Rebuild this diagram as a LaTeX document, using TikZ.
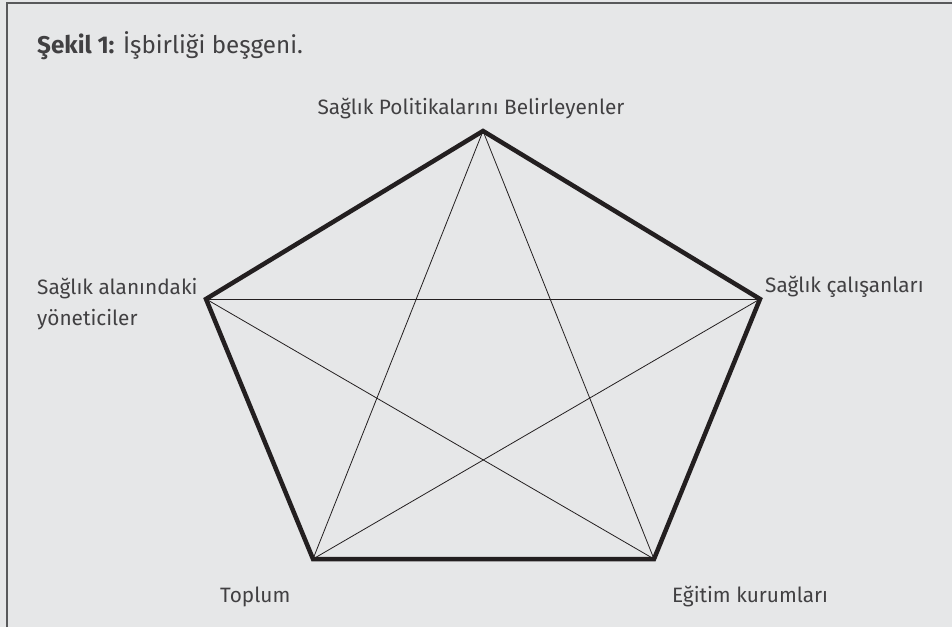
\documentclass[tikz,border=0pt]{standalone}
\usepackage{fontspec}
\setmainfont{Fira Sans}
\definecolor{bgc}{HTML}{E6E7E8}
\definecolor{ink}{HTML}{231F20}
\definecolor{txt}{HTML}{414042}
\definecolor{frame}{HTML}{58595B}
\begin{document}
\begin{tikzpicture}[x=1pt,y=-1pt,
  lbl/.style={text=txt,font=\fontsize{20.8}{31}\selectfont,inner sep=0pt},
  edge/.style={draw=ink,line width=4.5pt,line join=miter},
  diag/.style={draw=ink,line width=0.8pt}]
\fill[bgc] (0,0) rectangle (952,627);
\useasboundingbox (0,0) rectangle (952,627);
\draw[frame,line width=2pt] (6.5,627) -- (6.5,2.5) -- (952,2.5);
\node[anchor=base west,text=txt,font=\fontsize{24.2}{26}\selectfont,inner sep=0pt] (title) at (37,53) {\textbf{Şekil 1:} İşbirliği beşgeni.};
\coordinate (T) at (483,131);
\coordinate (L) at (206,299);
\coordinate (R) at (760,299);
\coordinate (BL) at (313,559);
\coordinate (BR) at (654,559);
\draw[edge] (T) -- (R) -- (BR) -- (BL) -- (L) -- cycle;
\draw[diag] (T) -- (BL);
\draw[diag] (T) -- (BR);
\draw[diag] (L) -- (R);
\draw[diag] (L) -- (BR);
\draw[diag] (R) -- (BL);
\node[lbl,anchor=base] (lt) at (471,114) {Sağlık Politikalarını Belirleyenler};
\node[lbl,anchor=base west] (ll1) at (37,294) {Sağlık alanındaki};
\node[lbl,anchor=base west] (ll2) at (37,325) {yöneticiler};
\node[lbl,anchor=base west] (lr) at (765,292) {Sağlık çalışanları};
\node[lbl,anchor=base west] (lbl1) at (220,602) {Toplum};
\node[lbl,anchor=base west] (lbr) at (672,602) {Eğitim kurumları};
\end{tikzpicture}
\end{document}
